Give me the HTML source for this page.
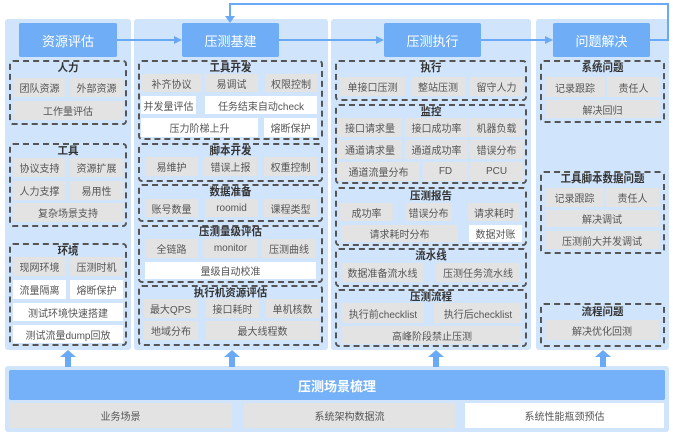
<!DOCTYPE html>
<html><head><meta charset="utf-8"><style>
body{margin:0;width:673px;height:437px;background:#fff;position:relative;overflow:hidden;font-family:"Liberation Sans","Noto Sans CJK SC",sans-serif}
div{position:absolute;box-sizing:border-box}
.p{background:#d0e4fb;border-radius:3px}
.h{background:#6fadf6;color:#fff;font-size:13px;display:flex;align-items:center;justify-content:center;border-radius:2px}
.g{border:2px dashed #555;border-radius:4px}
.t{font-size:10.5px;font-weight:bold;color:#333;text-align:center;line-height:13px}
.b{background:#e3e3e3;color:#555;font-size:10px;display:flex;align-items:center;justify-content:center;white-space:nowrap}
.w{background:#fff}
</style></head><body>
<div class="p" style="left:5px;top:19px;width:126px;height:331px"></div>
<div class="p" style="left:134px;top:19px;width:194px;height:331px"></div>
<div class="p" style="left:331px;top:19px;width:200px;height:331px"></div>
<div class="p" style="left:536px;top:19px;width:133px;height:331px"></div>
<div class="p" style="left:5px;top:366px;width:664px;height:66px"></div>
<svg style="position:absolute;left:0;top:0" width="673" height="437">
<g stroke="#6aa9f5" stroke-width="2" fill="none">
<polyline points="650,40 668,40 668,4 230,4 230,18"/>
<line x1="117" y1="40" x2="176" y2="40"/>
<line x1="279" y1="40" x2="378" y2="40"/>
<line x1="481" y1="40" x2="547" y2="40"/>
</g>
<g fill="#6aa9f5">
<polygon points="225,16 235,16 230,23"/>
<polygon points="174,36 182,40 174,44"/>
<polygon points="376,36 384,40 376,44"/>
<polygon points="545,36 553,40 545,44"/>
<rect x="65" y="356" width="6" height="11"/><polygon points="60,357 76,357 68,350"/>
<rect x="229" y="356" width="6" height="11"/><polygon points="224,357 240,357 232,350"/>
<rect x="433" y="356" width="6" height="11"/><polygon points="428,357 444,357 436,350"/>
<rect x="600" y="356" width="6" height="11"/><polygon points="595,357 611,357 603,350"/>
</g></svg>
<div class="h" style="left:19px;top:23px;width:98px;height:34px">资源评估</div>
<div class="h" style="left:182px;top:23px;width:97px;height:34px">压测基建</div>
<div class="h" style="left:384px;top:23px;width:97px;height:34px">压测执行</div>
<div class="h" style="left:553px;top:23px;width:97px;height:34px">问题解决</div>

<div class="g" style="left:9px;top:60px;width:118px;height:65px"></div>
<div class="t" style="left:9px;top:62px;width:118px">人力</div>
<div class="b" style="left:13px;top:78px;width:53px;height:19px">团队资源</div>
<div class="b" style="left:70px;top:78px;width:53px;height:19px">外部资源</div>
<div class="b" style="left:13px;top:101px;width:110px;height:19px">工作量评估</div>

<div class="g" style="left:9px;top:143px;width:118px;height:84px"></div>
<div class="t" style="left:9px;top:145px;width:118px">工具</div>
<div class="b" style="left:13px;top:158px;width:53px;height:19px">协议支持</div>
<div class="b" style="left:70px;top:158px;width:53px;height:19px">资源扩展</div>
<div class="b" style="left:13px;top:181px;width:53px;height:19px">人力支撑</div>
<div class="b" style="left:70px;top:181px;width:53px;height:19px">易用性</div>
<div class="b" style="left:13px;top:203px;width:110px;height:19px">复杂场景支持</div>

<div class="g" style="left:9px;top:243px;width:118px;height:103px"></div>
<div class="t" style="left:9px;top:245px;width:118px">环境</div>
<div class="b" style="left:13px;top:257px;width:53px;height:19px">现网环境</div>
<div class="b" style="left:70px;top:257px;width:53px;height:19px">压测时机</div>
<div class="b w" style="left:13px;top:280px;width:53px;height:19px">流量隔离</div>
<div class="b w" style="left:70px;top:280px;width:53px;height:19px">熔断保护</div>
<div class="b w" style="left:13px;top:303px;width:110px;height:18px">测试环境快速搭建</div>
<div class="b w" style="left:13px;top:325px;width:110px;height:18px">测试流量dump回放</div>

<div class="g" style="left:138px;top:60px;width:185px;height:80px"></div>
<div class="t" style="left:138px;top:62px;width:185px">工具开发</div>
<div class="b" style="left:141px;top:74px;width:61px;height:18px">补齐协议</div>
<div class="b" style="left:205px;top:74px;width:53px;height:18px">易调试</div>
<div class="b" style="left:265px;top:74px;width:52px;height:18px">权限控制</div>
<div class="b w" style="left:141px;top:96px;width:55px;height:18px">并发量评估</div>
<div class="b w" style="left:205px;top:96px;width:112px;height:18px">任务结束自动check</div>
<div class="b w" style="left:141px;top:118px;width:117px;height:19px">压力阶梯上升</div>
<div class="b w" style="left:264px;top:118px;width:53px;height:19px">熔断保护</div>

<div class="g" style="left:138px;top:143px;width:185px;height:39px"></div>
<div class="t" style="left:138px;top:145px;width:185px">脚本开发</div>
<div class="b" style="left:145px;top:157px;width:53px;height:19px">易维护</div>
<div class="b" style="left:204px;top:157px;width:53px;height:19px">错误上报</div>
<div class="b" style="left:264px;top:157px;width:53px;height:19px">权重控制</div>

<div class="g" style="left:138px;top:184px;width:185px;height:38px"></div>
<div class="t" style="left:138px;top:186px;width:185px">数据准备</div>
<div class="b" style="left:145px;top:199px;width:53px;height:18px">账号数量</div>
<div class="b" style="left:205px;top:199px;width:53px;height:18px">roomid</div>
<div class="b" style="left:264px;top:199px;width:53px;height:18px">课程类型</div>

<div class="g" style="left:138px;top:225px;width:185px;height:58px"></div>
<div class="t" style="left:138px;top:226px;width:185px">压测量级评估</div>
<div class="b" style="left:145px;top:239px;width:53px;height:19px">全链路</div>
<div class="b" style="left:204px;top:239px;width:53px;height:19px">monitor</div>
<div class="b" style="left:262px;top:239px;width:54px;height:19px">压测曲线</div>
<div class="b w" style="left:145px;top:262px;width:171px;height:17px">量级自动校准</div>

<div class="g" style="left:138px;top:285px;width:185px;height:61px"></div>
<div class="t" style="left:138px;top:287px;width:185px">执行机资源评估</div>
<div class="b" style="left:144px;top:299px;width:53px;height:19px">最大QPS</div>
<div class="b" style="left:206px;top:299px;width:53px;height:19px">接口耗时</div>
<div class="b" style="left:266px;top:299px;width:53px;height:19px">单机核数</div>
<div class="b" style="left:144px;top:321px;width:54px;height:19px">地域分布</div>
<div class="b" style="left:206px;top:321px;width:113px;height:19px">最大线程数</div>

<div class="g" style="left:335px;top:60px;width:192px;height:41px"></div>
<div class="t" style="left:335px;top:62px;width:192px">执行</div>
<div class="b" style="left:340px;top:77px;width:65px;height:19px">单接口压测</div>
<div class="b" style="left:411px;top:77px;width:54px;height:19px">整站压测</div>
<div class="b" style="left:470px;top:77px;width:53px;height:19px">留守人力</div>

<div class="g" style="left:335px;top:104px;width:192px;height:80px"></div>
<div class="t" style="left:335px;top:106px;width:192px">监控</div>
<div class="b" style="left:338px;top:118px;width:64px;height:19px">接口请求量</div>
<div class="b" style="left:405px;top:118px;width:63px;height:19px">接口成功率</div>
<div class="b" style="left:470px;top:118px;width:53px;height:19px">机器负载</div>
<div class="b" style="left:338px;top:140px;width:64px;height:19px">通道请求量</div>
<div class="b" style="left:405px;top:140px;width:63px;height:19px">通道成功率</div>
<div class="b" style="left:470px;top:140px;width:53px;height:19px">错误分布</div>
<div class="b" style="left:338px;top:162px;width:81px;height:19px">通道流量分布</div>
<div class="b" style="left:423px;top:162px;width:45px;height:19px">FD</div>
<div class="b" style="left:470px;top:162px;width:53px;height:19px">PCU</div>

<div class="g" style="left:335px;top:187px;width:192px;height:59px"></div>
<div class="t" style="left:335px;top:190px;width:192px">压测报告</div>
<div class="b" style="left:340px;top:203px;width:53px;height:18px">成功率</div>
<div class="b" style="left:405px;top:203px;width:47px;height:18px">错误分布</div>
<div class="b" style="left:468px;top:203px;width:52px;height:18px">请求耗时</div>
<div class="b" style="left:341px;top:225px;width:117px;height:17px">请求耗时分布</div>
<div class="b w" style="left:469px;top:225px;width:53px;height:17px">数据对账</div>

<div class="g" style="left:335px;top:248px;width:192px;height:39px"></div>
<div class="t" style="left:335px;top:250px;width:192px">流水线</div>
<div class="b" style="left:342px;top:263px;width:81px;height:19px">数据准备流水线</div>
<div class="b" style="left:436px;top:263px;width:84px;height:19px">压测任务流水线</div>

<div class="g" style="left:335px;top:289px;width:192px;height:58px"></div>
<div class="t" style="left:335px;top:291px;width:192px">压测流程</div>
<div class="b" style="left:342px;top:303px;width:82px;height:20px">执行前checklist</div>
<div class="b" style="left:434px;top:303px;width:88px;height:20px">执行后checklist</div>
<div class="b" style="left:342px;top:326px;width:180px;height:18px">高峰阶段禁止压测</div>

<div class="g" style="left:540px;top:60px;width:125px;height:63px"></div>
<div class="t" style="left:540px;top:62px;width:125px">系统问题</div>
<div class="b" style="left:545px;top:77px;width:60px;height:20px">记录跟踪</div>
<div class="b" style="left:607px;top:77px;width:53px;height:20px">责任人</div>
<div class="b" style="left:545px;top:100px;width:115px;height:18px">解决回归</div>

<div class="g" style="left:540px;top:171px;width:125px;height:83px"></div>
<div class="t" style="left:540px;top:173px;width:125px">工具脚本数据问题</div>
<div class="b" style="left:545px;top:188px;width:59px;height:19px">记录跟踪</div>
<div class="b" style="left:606px;top:188px;width:53px;height:19px">责任人</div>
<div class="b" style="left:545px;top:210px;width:114px;height:17px">解决调试</div>
<div class="b" style="left:545px;top:231px;width:114px;height:18px">压测前大并发调试</div>

<div class="g" style="left:540px;top:303px;width:125px;height:44px"></div>
<div class="t" style="left:540px;top:306px;width:125px">流程问题</div>
<div class="b" style="left:545px;top:320px;width:114px;height:20px">解决优化回测</div>

<div class="h" style="left:9px;top:370px;width:656px;height:30px;background:#74b1f8;font-weight:bold">压测场景梳理</div>
<div class="b" style="left:9px;top:403px;width:223px;height:25px">业务场景</div>
<div class="b" style="left:244px;top:403px;width:211px;height:25px">系统架构数据流</div>
<div class="b w" style="left:465px;top:403px;width:199px;height:25px">系统性能瓶颈预估</div>
</body></html>
